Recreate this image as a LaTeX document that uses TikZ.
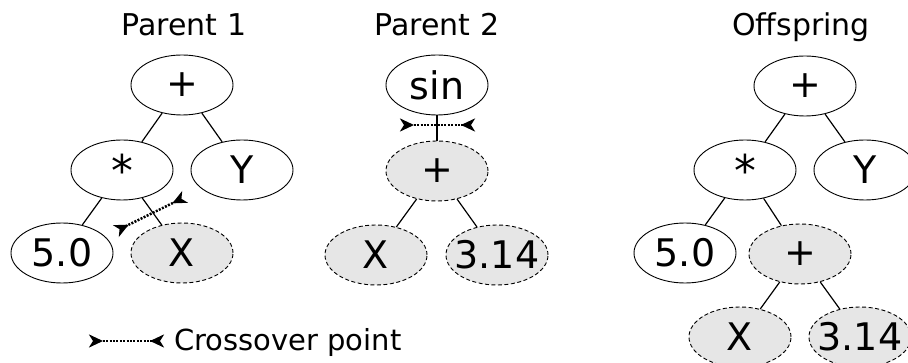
\documentclass[tikz,border=0pt]{standalone}
\usepackage{fontspec}
\setmainfont{DejaVu Sans}
\usetikzlibrary{shapes.geometric,arrows.meta}
\definecolor{swapgray}{HTML}{E6E6E6}

\begin{document}
\begin{tikzpicture}[x=1pt,y=-1pt,
  treenode/.style={ellipse,draw,line width=0.9pt,minimum width=102pt,minimum height=60pt,
    inner sep=0pt,font=\fontsize{38}{40}\selectfont},
  swapped/.style={treenode,fill=swapgray,dash pattern=on 4pt off 2.5pt},
  edge/.style={line width=1.2pt},
  xover/.style={line width=2.5pt,dash pattern=on 2pt off 1.4pt,
    {Stealth[reversed,length=14pt,width=13pt,inset=4pt]}-{Stealth[reversed,length=14pt,width=13pt,inset=4pt]}},
  title/.style={anchor=base,inner sep=0pt,font=\fontsize{30}{32}\selectfont}]

\useasboundingbox (0,0) rectangle (908,363);

% titles
\node[title] (t1) at (184,36) {Parent 1};
\node[title] (t2) at (437,36) {Parent 2};
\node[title] (t3) at (801,36) {Offspring};

% parent 1
\node[treenode] (a1) at (182,85)  {\makebox[0pt]{+}};
\node[treenode] (a2) at (122,170) {\makebox[0pt]{\raisebox{-0.3em}{\scalebox{1.15}{*}}}};
\node[treenode] (a3) at (242,170) {\makebox[0pt]{Y}};
\node[treenode] (a4) at (62,253)  {\makebox[0pt]{5.0}};
\node[swapped]  (a5) at (182,253) {\makebox[0pt]{X}};
\draw[edge] (a1) -- (a2);
\draw[edge] (a1) -- (a3);
\draw[edge] (a2) -- (a4);
\draw[edge] (a2) -- (a5);
\coordinate (a6) at (116,231);
\coordinate (a7) at (185,197);
\draw[xover] (a6) -- (a7);

% parent 2
\node[treenode] (b1) at (437,85)  {\makebox[0pt]{sin}};
\node[swapped]  (b2) at (437,171) {\makebox[0pt]{+}};
\node[swapped]  (b3) at (376,255) {\makebox[0pt]{X}};
\node[swapped]  (b4) at (497,255) {\makebox[0pt]{3.14}};
\draw[edge] (b1) -- (b2);
\draw[edge] (b2) -- (b3);
\draw[edge] (b2) -- (b4);
\coordinate (b5) at (400,125);
\coordinate (b6) at (475,125);
\draw[xover] (b5) -- (b6);

% offspring
\node[treenode] (c1) at (805,86)  {\makebox[0pt]{+}};
\node[treenode] (c2) at (745,170) {\makebox[0pt]{\raisebox{-0.3em}{\scalebox{1.15}{*}}}};
\node[treenode] (c3) at (865,170) {\makebox[0pt]{Y}};
\node[treenode] (c4) at (685,253) {\makebox[0pt]{5.0}};
\node[swapped]  (c5) at (800,254) {\makebox[0pt]{+}};
\node[swapped]  (c6) at (740,337) {\makebox[0pt]{X}};
\node[swapped]  (c7) at (860,337) {\makebox[0pt]{3.14}};
\draw[edge] (c1) -- (c2);
\draw[edge] (c1) -- (c3);
\draw[edge] (c2) -- (c4);
\draw[edge] (c2) -- (c5);
\draw[edge] (c5) -- (c6);
\draw[edge] (c5) -- (c7);

% legend
\coordinate (l1) at (89,341);
\coordinate (l2) at (164,341);
\draw[xover] (l1) -- (l2);
\node[anchor=base west,inner sep=0pt,font=\fontsize{29}{31}\selectfont] (l3) at (174,351) {Crossover point};
\end{tikzpicture}
\end{document}
